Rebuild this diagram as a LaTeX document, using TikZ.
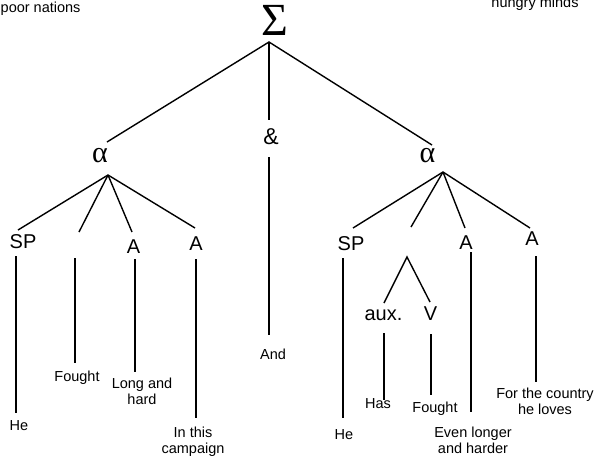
\documentclass[tikz,border=0pt]{standalone}
\usepackage{fontspec}
\setmainfont{Liberation Sans}
\newfontfamily\greekserif{Liberation Serif}
\begin{document}
\begin{tikzpicture}[x=1pt,y=-1pt,
  edge/.style={line width=1.4pt, black},
  word/.style={font=\fontsize{14.5}{16}\selectfont, inner sep=0pt, align=center},
  func/.style={font=\fontsize{20}{22}\selectfont, inner sep=0pt, anchor=base},
  greek/.style={font=\greekserif\fontsize{30}{32}\selectfont, inner sep=0pt}]
\useasboundingbox (0,0) rectangle (599,461);

% running text at the top edge
\node[word, anchor=base west] (poor) at (0.5,12.5) {poor nations};
\node[word, anchor=base] (hungry) at (535,7.5) {hungry minds};

% clause complex
\node[font=\greekserif\fontsize{46}{48}\selectfont, inner sep=0pt] (sigma) at (275,20.5) {Σ};
\node[greek] (alphaL) at (100,155.5) {α};
\node[greek] (alphaR) at (427.5,155.5) {α};
\node[font=\fontsize{23}{25}\selectfont, inner sep=0pt] (amp) at (271,137) {\&};

% function labels
\node[func] (spL) at (23,248) {SP};
\node[func] (aL1) at (133.5,253) {A};
\node[func] (aL2) at (196,250) {A};
\node[func] (spR) at (351,250) {SP};
\node[func] (aR1) at (466,249) {A};
\node[func] (aR2) at (532,245) {A};
\node[func] (aux) at (383.5,320) {aux.};
\node[func] (verb) at (430.5,320) {V};

% wordings
\node[word, anchor=base] (heL) at (19,430) {He};
\node[word, anchor=base] (foughtL) at (77,381) {Fought};
\node[word, anchor=north] (longhard) at (142,377.4) {Long and\\hard};
\node[word, anchor=north] (campaign) at (193,426.4) {In this\\campaign};
\node[word, anchor=base] (and) at (273,359) {And};
\node[word, anchor=base] (heR) at (344,439) {He};
\node[word, anchor=base] (has) at (378,408) {Has};
\node[word, anchor=base] (foughtR) at (435,412) {Fought};
\node[word, anchor=north] (longer) at (473,426.4) {Even longer\\and harder};
\node[word, anchor=north] (country) at (545,387.4) {For the country\\he loves};

% branch points and line ends
\coordinate (root) at (269,42);
\coordinate (alphaLtop) at (107,142);
\coordinate (amptop) at (269,120);
\coordinate (alphaRtop) at (432,145);
\coordinate (ampbot) at (269,157);
\coordinate (andtop) at (269,335);

\coordinate (forkL) at (108,175);
\coordinate (forkL1) at (18,230);
\coordinate (forkL2) at (79,232);
\coordinate (forkL3) at (132,232);
\coordinate (forkL4) at (195,228);

\coordinate (forkR) at (443,172);
\coordinate (forkR1) at (353,228);
\coordinate (forkR2) at (411,227);
\coordinate (forkR3) at (465,228);
\coordinate (forkR4) at (530,228);

\coordinate (vL1a) at (16,256);   \coordinate (vL1b) at (16,413);
\coordinate (vL2a) at (75,258);   \coordinate (vL2b) at (75,363);
\coordinate (vL3a) at (135,259);  \coordinate (vL3b) at (135,372);
\coordinate (vL4a) at (196,259);  \coordinate (vL4b) at (196,418);

\coordinate (vR1a) at (343,258);  \coordinate (vR1b) at (343,418);
\coordinate (forkV) at (407,257);
\coordinate (forkV1) at (384,303);
\coordinate (forkV2) at (430,302);
\coordinate (vAuxa) at (384,333); \coordinate (vAuxb) at (384,400);
\coordinate (vVa) at (431,334);   \coordinate (vVb) at (431,395);
\coordinate (vR3a) at (471,252);  \coordinate (vR3b) at (471,412);
\coordinate (vR4a) at (536,256);  \coordinate (vR4b) at (536,382);

% top level
\draw[edge] (alphaLtop) -- (root) -- (alphaRtop);
\draw[edge] (root) -- (amptop);
\draw[edge] (ampbot) -- (andtop);

% first clause
\foreach \e in {forkL1,forkL2,forkL3,forkL4} \draw[edge] (forkL) -- (\e);
\draw[edge] (vL1a) -- (vL1b);
\draw[edge] (vL2a) -- (vL2b);
\draw[edge] (vL3a) -- (vL3b);
\draw[edge] (vL4a) -- (vL4b);

% second clause
\foreach \e in {forkR1,forkR2,forkR3,forkR4} \draw[edge] (forkR) -- (\e);
\draw[edge] (vR1a) -- (vR1b);
\draw[edge] (forkV1) -- (forkV) -- (forkV2);
\draw[edge] (vAuxa) -- (vAuxb);
\draw[edge] (vVa) -- (vVb);
\draw[edge] (vR3a) -- (vR3b);
\draw[edge] (vR4a) -- (vR4b);
\end{tikzpicture}
\end{document}
